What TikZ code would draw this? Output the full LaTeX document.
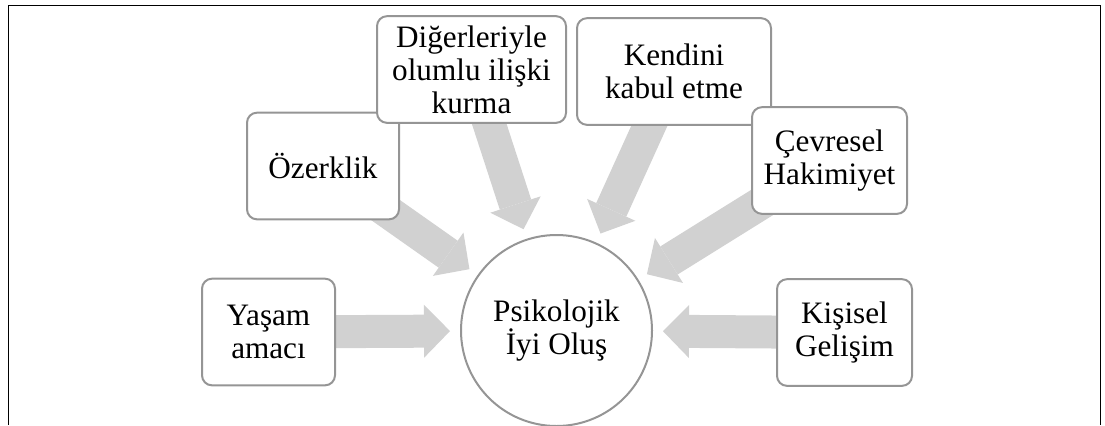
\documentclass[tikz,border=0pt]{standalone}
\usepackage{fontspec}
\setmainfont{Liberation Serif}
\usetikzlibrary{arrows.meta,backgrounds}
\definecolor{boxgray}{HTML}{959595}
\definecolor{arrowgray}{HTML}{D1D1D1}
\begin{document}
\begin{tikzpicture}[x=0.75pt,y=-0.75pt,
    every node/.style={font=\fontsize{23.4pt}{24.75pt}\selectfont, align=center},
    item/.style={draw=boxgray, line width=1.5pt, fill=white, rounded corners=7.5pt,
      minimum height=80pt, inner sep=2pt},
    core/.style={draw=boxgray, line width=1.5pt, fill=white, circle,
      minimum size=143.25pt, inner sep=0pt},
    push/.style={draw=arrowgray, line width=24.75pt, shorten >=7.5pt,
      -{Triangle[width=39.75pt,length=19.5pt,line width=0pt]}}]
      \useasboundingbox (0,0) rectangle (1105,425);
      \draw[line width=0.75pt] (8,425) -- (8,5) -- (1100,5) -- (1100,425);
      \draw
        (556.5,330.5) node[core] (0){Psikolojik\\İyi Oluş}
        (268.5,332) node[item, minimum width=99.75pt] (1){Yaşam\\amacı}
        (323,166) node[item, minimum width=114pt] (2){Özerklik}
        (471.5,69.5) node[item, minimum width=141.75pt] (3){Diğerleriyle\\olumlu ilişki\\kurma}
        (674,71.5) node[item, minimum width=145.5pt] (4){Kendini\\kabul etme}
        (829.5,160.5) node[item, minimum width=116.25pt] (5){Çevresel\\Hakimiyet}
        (844.5,332.5) node[item, minimum width=101.25pt] (6){Kişisel\\Gelişim};
      \begin{scope}[on background layer={push}]
        \draw (1.center) to (0);
        \draw (2.center) to (0);
        \draw (3.center) to (0);
        \draw (4.center) to (0);
        \draw (5.center) to (0);
        \draw (6.center) to (0);
      \end{scope}
    \end{tikzpicture}
\end{document}
